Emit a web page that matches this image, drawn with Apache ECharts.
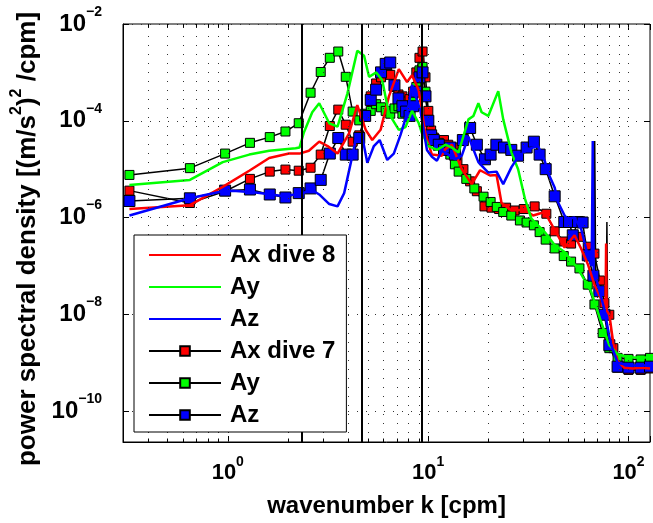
<!DOCTYPE html>
<html><head><meta charset="utf-8">
<script src="https://cdn.jsdelivr.net/npm/echarts@6/dist/echarts.min.js"></script>
<style>html,body{margin:0;padding:0;background:#fff}#c{width:653px;height:523px}</style>
</head><body><div id="c"></div>
<script>
// ---------- data: [wavenumber k (cpm), PSD] ----------
const axDive8 = [[0.323,1.5e-6],[0.647,1.8e-6],[0.944,4.3e-6],[1.28,9.3e-6],[1.61,1.7e-5],[2.02,2.1e-5],[2.28,2.1e-5],[2.54,2.4e-5],[2.86,3.7e-5],[3.15,3.0e-5],[3.53,2.1e-5],[4.03,5.5e-5],[4.43,2.1e-4],[4.88,6.5e-5],[5.26,4.0e-5],[5.79,6.5e-5],[6.37,3.2e-4],[7.14,1.17e-3],[7.85,6.3e-4],[8.31,8.7e-4],[8.97,4.3e-4],[9.68,5.5e-5],[10.44,2.0e-5],[11.71,1.9e-5],[12.17,2.6e-5],[13.13,3.2e-5],[14.72,1.0e-5],[16.5,4.9e-6],[18.16,9.5e-6],[20.36,7.4e-6],[21.95,7.6e-6],[23.24,2.0e-6],[26.06,1.4e-6],[30.37,1.45e-6],[33.39,1.1e-6],[38.16,1.3e-6],[42.78,5.6e-7],[47.97,2.4e-7],[53.76,4.3e-7],[57.98,2.3e-7],[62.59,1.1e-7],[67.58,4.1e-8],[71.5,2.5e-8],[75.8,1.6e-8],[76.8,1.4e-8],[77.3,2.9e-7],[77.8,1.2e-8],[80.23,9.8e-9],[84,2.5e-9],[88.2,1.1e-9],[95,7.9e-10],[105,7.6e-10],[115,7.9e-10],[128,7.6e-10]];
const ayDive8 = [[0.323,4.7e-6],[0.647,6.0e-6],[0.944,1.4e-5],[1.28,2.0e-5],[1.61,2.4e-5],[2.18,2.7e-5],[2.28,2.8e-5],[2.40,5.8e-5],[2.64,1.5e-4],[2.86,2.3e-4],[3.21,8.9e-5],[3.53,7.6e-5],[3.95,3.6e-4],[4.43,2.8e-3],[4.79,2.2e-3],[5.07,8.1e-4],[5.51,1.0e-3],[5.90,6.9e-4],[6.37,1.4e-4],[7.14,6.5e-5],[7.71,7.4e-5],[8.31,1.6e-4],[8.97,9.0e-5],[9.32,5.5e-5],[10.06,3.0e-5],[11.06,2.5e-5],[12.2,3.2e-5],[13.13,2.8e-5],[14.17,2.2e-5],[15.89,1.07e-4],[16.82,1.26e-4],[17.81,2.3e-4],[18.49,1.5e-4],[19.96,1.26e-4],[22.38,4.1e-4],[23.70,1.07e-4],[26.06,2.2e-5],[28.12,1.0e-5],[30.37,2.5e-6],[32.75,9.5e-7],[38.16,5.0e-7],[42.78,2.7e-7],[47.97,1.95e-7],[55.83,8.9e-8],[65.0,3.0e-8],[72.87,7.1e-9],[80.23,2.3e-9],[88.2,1.5e-9],[100,1.3e-9],[115,1.26e-9],[128,1.3e-9]];
const azDive8 = [[0.323,1.1e-6],[0.647,2.5e-6],[0.944,3.5e-6],[1.059,3.6e-6],[1.38,3.3e-6],[1.875,2.8e-6],[2.36,3.1e-6],[2.59,3.9e-6],[2.86,3.0e-6],[3.21,1.9e-6],[3.53,1.7e-6],[3.81,3.2e-6],[4.11,1.35e-5],[4.35,4.0e-5],[4.69,4.7e-5],[4.97,1.35e-5],[5.36,3.0e-5],[5.73,4.0e-5],[6.25,1.55e-5],[6.74,2.1e-5],[7.28,5.1e-5],[7.85,1.4e-4],[8.31,5.5e-4],[9.15,1.6e-4],[9.86,2.5e-5],[10.44,1.8e-5],[11.06,1.5e-5],[11.71,2.4e-5],[12.6,2.0e-5],[13.65,1.6e-5],[14.72,1.9e-5],[15.89,4.7e-5],[17.81,1.4e-5],[19.96,8.5e-6],[21.95,8.9e-6],[23.70,4.9e-6],[26.06,1.1e-5],[28.12,1.8e-5],[31.54,2.6e-5],[35.35,3.0e-5],[38.16,1.5e-5],[39.63,8.5e-6],[42.78,4.2e-6],[44.42,2.1e-6],[47.97,1.1e-6],[49.81,9.3e-7],[53.76,1.0e-6],[57.98,5.9e-7],[62.59,1.66e-7],[65.5,1.0e-7],[66.3,3.8e-5],[67.0,8.0e-8],[71.5,3.2e-8],[75.76,1.26e-8],[81.44,2.5e-9],[88.2,1.0e-9],[100,8.9e-10],[115,8.7e-10],[128,9.0e-10]];
const axDive7 = [[0.323,3.6e-6],[0.647,2.0e-6],[0.970,3.5e-6],[1.29,6.3e-6],[1.62,8.9e-6],[1.94,9.8e-6],[2.26,9.3e-6],[2.59,1.07e-5],[2.91,2.0e-5],[3.23,7.8e-5],[3.56,1.7e-4],[3.88,8.3e-5],[4.20,3.7e-5],[4.53,5.0e-5],[4.85,1.26e-4],[5.17,3.2e-4],[5.50,5.9e-4],[5.82,7.9e-4],[6.14,1.0e-3],[6.47,8.9e-4],[6.79,5.0e-4],[7.11,3.5e-4],[7.44,3.2e-4],[7.76,2.5e-4],[8.08,2.8e-4],[8.41,4.0e-4],[8.73,1.0e-3],[9.05,2.0e-3],[9.38,2.7e-3],[9.70,7.9e-4],[10.02,1.6e-4],[10.35,6.3e-5],[10.67,4.5e-5],[11.3,3.5e-5],[12.0,4.0e-5],[12.6,3.2e-5],[13.4,2.8e-5],[14.0,1.5e-5],[15.0,1.0e-5],[16.2,5.6e-6],[17.5,3.5e-6],[19.1,1.7e-6],[20.7,1.6e-6],[22.6,1.5e-6],[24.5,1.6e-6],[27.0,1.4e-6],[30.0,1.5e-6],[34.0,1.7e-6],[38.9,1.2e-6],[42.8,5.2e-7],[47.8,3.2e-7],[51.7,2.9e-7],[56.9,4.0e-7],[62.6,2.5e-7],[67.6,1.8e-7],[72.0,5.0e-8],[75.8,1.7e-8],[80.2,9.8e-9],[84.0,2.0e-9],[88.2,7.9e-10],[100,7.1e-10],[115,7.1e-10],[128,7.6e-10]];
const axDive7Spike = [[77.4,1.6e-8],[78.0,8.1e-7],[78.6,1.4e-8]];
const ayDive7 = [[0.323,7.6e-6],[0.647,1.05e-5],[0.970,2.1e-5],[1.29,3.5e-5],[1.62,4.6e-5],[1.94,6.0e-5],[2.26,8.9e-5],[2.59,3.8e-4],[2.91,1.02e-3],[3.23,2.0e-3],[3.56,2.7e-3],[3.88,8.1e-4],[4.20,1.55e-4],[4.53,1.02e-4],[4.85,1.4e-4],[5.17,1.6e-4],[5.50,2.2e-4],[5.82,1.9e-4],[6.14,1.6e-4],[6.47,1.4e-4],[6.79,1.8e-4],[7.11,2.0e-4],[7.44,1.4e-4],[7.76,1.6e-4],[8.08,1.8e-4],[8.41,2.5e-4],[8.73,5.0e-4],[9.05,1.1e-3],[9.38,1.3e-3],[9.70,4.0e-4],[10.02,1.0e-4],[10.35,5.0e-5],[10.67,4.0e-5],[11.3,3.5e-5],[12.0,2.8e-5],[12.9,2.0e-5],[13.6,1.26e-5],[14.2,8.9e-6],[15.5,6.3e-6],[17.0,4.0e-6],[18.9,2.7e-6],[20.5,2.1e-6],[22.0,1.66e-6],[23.7,1.3e-6],[26.0,1.1e-6],[28.7,8.7e-7],[31.0,7.9e-7],[33.7,6.9e-7],[36.0,5.0e-7],[38.6,3.5e-7],[42.8,2.3e-7],[47.5,1.6e-7],[51.7,1.23e-7],[56.9,8.9e-8],[62.6,4.1e-8],[67.6,1.6e-8],[74.3,4.1e-9],[80.2,2.0e-9],[88.2,1.26e-9],[100,1.2e-9],[115,1.17e-9],[128,1.26e-9]];
const azDive7 = [[0.323,2.2e-6],[0.647,2.5e-6],[0.970,3.6e-6],[1.29,3.8e-6],[1.62,3.0e-6],[1.94,2.6e-6],[2.26,3.2e-6],[2.59,4.0e-6],[2.91,6.0e-6],[3.23,2.1e-5],[3.56,4.4e-5],[3.88,2.0e-5],[4.20,2.0e-5],[4.53,4.4e-5],[4.85,1.26e-4],[5.17,2.7e-4],[5.50,4.4e-4],[5.82,1.0e-3],[6.14,1.5e-3],[6.47,1.6e-3],[6.79,5.4e-4],[7.11,2.9e-4],[7.44,2.0e-4],[7.76,1.55e-4],[8.08,1.26e-4],[8.41,2.0e-4],[8.73,4.0e-4],[9.05,7.9e-4],[9.38,1.0e-3],[9.70,3.2e-4],[10.02,1.0e-4],[10.35,5.0e-5],[10.67,4.0e-5],[11.3,3.2e-5],[12.0,2.5e-5],[12.9,2.8e-5],[13.6,2.0e-5],[14.9,4.0e-5],[16.2,7.1e-5],[17.5,3.2e-5],[19.2,1.6e-5],[20.5,2.0e-5],[21.9,3.2e-5],[23.9,2.8e-5],[26.0,2.5e-5],[28.1,1.9e-5],[31.0,2.8e-5],[33.7,3.7e-5],[36.0,2.0e-5],[38.6,1.0e-5],[42.8,2.75e-6],[47.8,8.1e-7],[50.5,8.1e-7],[52.7,4.3e-7],[56.0,8.1e-7],[59.0,7.9e-7],[62.6,1.66e-7],[66.8,6.3e-8],[71.5,3.0e-8],[75.8,9.8e-9],[80.2,2.3e-9],[88.2,8.3e-10],[100,7.9e-10],[115,7.9e-10],[128,8.3e-10]];
const azDive7Spike = [[67.0,6.0e-8],[67.8,3.8e-5],[68.6,5.0e-8]];

const seriesNames = ['ax8','ay8','az8','ax7','ay7','az7'];
const legendLabels = {ax8:'Ax dive 8', ay8:'Ay', az8:'Az', ax7:'Ax dive 7', ay7:'Ay', az7:'Az'};
const stepLines = [2.33, 4.66, 9.32];
const xGridValues = [0.4,0.5,0.6,0.7,0.8,0.9,1,2,3,4,5,6,7,8,9,10,20,30,40,50,60,70,80,90,100];
const xMinorValues = [0.4,0.5,0.6,0.7,0.8,0.9,2,3,4,5,6,7,8,9,20,30,40,50,60,70,80,90];
const xRange = [0.3, 128];
const yRange = [2.3e-11, 1e-2];

// ---------- chart ----------
const FONT = 'Liberation Sans, Arial, Helvetica, sans-serif';
const RED = '#ff0000', GREEN = '#00ff00', BLUE = '#0000ff';
function powLabel(v){
  const e = Math.log10(v), r = Math.round(e);
  if (Math.abs(e - r) > 1e-6) return '';
  return '{b|10}{s|' + (r < 0 ? '\u2212' + (-r) : r) + '}';
}
function rich(bs, ss){
  return {
    b:{fontSize:bs, fontWeight:'bold', fontFamily:FONT, color:'#000', padding:[7,0,7,0]},
    s:{fontSize:ss, fontWeight:'bold', fontFamily:FONT, color:'#000', verticalAlign:'top'}
  };
}
const dotted = {type:[1,8], color:'#333', width:1};
const tickFactor = 1.18;

const minorTickData = [];
xMinorValues.forEach(k=>{
  minorTickData.push([{coord:[k, yRange[0]]},{coord:[k, yRange[0]*tickFactor]}]);
  minorTickData.push([{coord:[k, yRange[1]/tickFactor]},{coord:[k, yRange[1]]}]);
});

function dive8(name, data, color){
  return {name, type:'line', data, symbol:'none', z:3, clip:true,
    lineStyle:{color, width:2.5}, itemStyle:{color}, emphasis:{disabled:true}};
}
function dive7(name, data, color, size){
  return {name, type:'line', data, symbol:'rect', symbolSize:size, showAllSymbol:true, z:2, clip:true,
    lineStyle:{color:'#000', width:1.5}, itemStyle:{color, borderColor:'#000', borderWidth:1},
    emphasis:{disabled:true}};
}
function spike(name, data){
  return {name, type:'line', data, symbol:'none', z:2, clip:true, lineStyle:{color:'#000', width:1.5}, emphasis:{disabled:true}};
}

const option = {
  animation:false,
  backgroundColor:'#fff',
  grid:{left:123, top:24, right:1, bottom:80, show:true, borderColor:'#000', borderWidth:1, containLabel:false},
  legend:{
    data:seriesNames.map(n => n.endsWith('8') ? {name:n, itemStyle:{opacity:0}} : {name:n}),
    formatter:n=>legendLabels[n], orient:'vertical', left:134, top:235,
    padding:[8,11,5,14], itemWidth:72, itemHeight:12, itemGap:8,
    backgroundColor:'#fff', borderColor:'#000', borderWidth:1, z:10, selectedMode:false,
    textStyle:{fontSize:24, fontWeight:'bold', fontFamily:FONT, color:'#000', lineHeight:24, padding:[0,0,0,4]}
  },
  xAxis:[{
    type:'log', logBase:10, min:xRange[0], max:xRange[1], position:'bottom',
    axisLine:{show:true, lineStyle:{color:'#000', width:1}},
    axisTick:{show:true, inside:true, length:6, lineStyle:{color:'#000'}},
    splitLine:{show:false}, minorTick:{show:false},
    axisLabel:{formatter:powLabel, margin:13, rich:rich(22,14), showMinLabel:true, showMaxLabel:true},
    name:'wavenumber k [cpm]', nameLocation:'middle', nameGap:52,
    nameTextStyle:{fontSize:24, fontWeight:'bold', fontFamily:FONT, color:'#000'}
  },{
    type:'log', logBase:10, min:xRange[0], max:xRange[1], position:'top',
    axisLine:{show:false}, axisTick:{show:true, inside:true, length:6, lineStyle:{color:'#000'}},
    axisLabel:{show:false}, splitLine:{show:false}
  }],
  yAxis:[{
    type:'log', logBase:100, min:yRange[0], max:yRange[1], position:'left',
    axisLine:{show:true, lineStyle:{color:'#000', width:1}},
    axisTick:{show:true, inside:true, length:6, lineStyle:{color:'#000'}},
    splitLine:{show:true, lineStyle:dotted},
    axisLabel:{formatter:powLabel, margin:21, rich:rich(24,14)},
    name:'{n|power spectral density [(m/s}{s|2}{n|)}{s|2}{e| /cpm]}',
    nameLocation:'middle', nameGap:73, nameRotate:90,
    nameTextStyle:{rich:{
      n:{fontSize:26, fontWeight:'bold', fontFamily:FONT, color:'#000', padding:[6,0,0,0]},
      e:{fontSize:26, fontWeight:'bold', fontFamily:FONT, color:'#000', padding:[6,12,0,0]},
      s:{fontSize:16, fontWeight:'bold', fontFamily:FONT, color:'#000', verticalAlign:'top'}
    }}
  },{
    type:'log', logBase:100, min:yRange[0], max:yRange[1], position:'right',
    axisLine:{show:false}, axisTick:{show:true, inside:true, length:6, lineStyle:{color:'#000'}},
    axisLabel:{show:false}, splitLine:{show:false}
  }],
  series:[
    {name:'__grid', type:'line', data:[], z:1, silent:true,
     markLine:{silent:true, symbol:['none','none'], label:{show:false}, animation:false,
       lineStyle:dotted, data:xGridValues.map(k=>({xAxis:k}))}},
    {name:'__ticks', type:'line', data:[], z:4, silent:true,
     markLine:{silent:true, symbol:['none','none'], label:{show:false}, animation:false,
       lineStyle:{type:'solid', color:'#000', width:1}, data:minorTickData}},
    dive7('ax7', axDive7, RED, 9),
    dive7('ay7', ayDive7, GREEN, 9),
    dive7('az7', azDive7, BLUE, 11),
    spike('ax7spike', axDive7Spike),
    spike('az7spike', azDive7Spike),
    dive8('ax8', axDive8, RED),
    dive8('ay8', ayDive8, GREEN),
    dive8('az8', azDive8, BLUE),
    {name:'__steps', type:'line', data:[], z:5, silent:true,
     markLine:{silent:true, symbol:['none','none'], label:{show:false}, animation:false,
       lineStyle:{type:'solid', color:'#000', width:2}, data:stepLines.map(k=>({xAxis:k}))}}
  ]
};
const chart = echarts.init(document.getElementById('c'), null, {renderer:'canvas'});
chart.setOption(option);
</script>
</body></html>
